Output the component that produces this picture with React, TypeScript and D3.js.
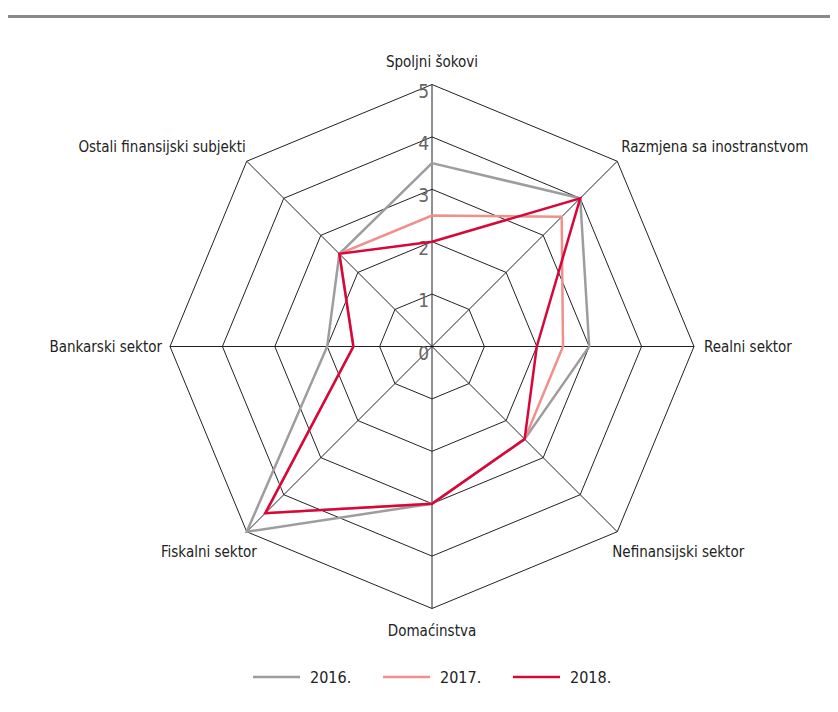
import React, { useEffect, useRef } from "react";
import * as d3 from "d3";

const axes = [
  "Spoljni šokovi",
  "Razmjena sa inostranstvom",
  "Realni sektor",
  "Nefinansijski sektor",
  "Domaćinstva",
  "Fiskalni sektor",
  "Bankarski sektor",
  "Ostali finansijski subjekti",
];

const years = ["2016.", "2017.", "2018."];
const values2016 = [3.5, 4, 3, 2.5, 3, 5, 2, 2.5];
const values2017 = [2.5, 3.5, 2.5, 2.5, 3, 4.5, 1.5, 2.5];
const values2018 = [2, 4, 2, 2.5, 3, 4.5, 1.5, 2.5];
const colors = ["#9d9d9f", "#f0908a", "#d6083b"];
const ticks = [0, 1, 2, 3, 4, 5];

const FONT = "'Liberation Sans Narrow', 'DejaVu Sans Condensed', sans-serif";

export default function App() {
  const svgRef = useRef<SVGSVGElement>(null);

  useEffect(() => {
    const width = 838;
    const height = 712;
    const cx = 432;
    const cy = 346.5;
    const R = 262;

    const svg = d3.select(svgRef.current);
    svg.selectAll("*").remove();
    svg.attr("viewBox", [0, 0, width, height]).style("font-family", FONT);

    // top rule
    svg
      .append("line")
      .attr("x1", 6)
      .attr("x2", width)
      .attr("y1", 16.5)
      .attr("y2", 16.5)
      .attr("stroke", "#8a8a8c")
      .attr("stroke-width", 3);

    const r = d3.scaleLinear().domain([0, 5]).range([0, R]);
    const angle = (i: number) => (i * 2 * Math.PI) / axes.length;
    const pt = (i: number, v: number): [number, number] => [
      cx + r(v) * Math.sin(angle(i)),
      cy - r(v) * Math.cos(angle(i)),
    ];

    const g = svg.append("g");

    // grid rings
    ticks.slice(1).forEach((t) => {
      g.append("path")
        .attr("d", d3.line()(axes.map((_, i) => pt(i, t))) + "Z")
        .attr("fill", "none")
        .attr("stroke", "#222")
        .attr("stroke-width", 1);
    });

    // spokes
    axes.forEach((_, i) => {
      const [x, y] = pt(i, 5);
      g.append("line")
        .attr("x1", cx)
        .attr("y1", cy)
        .attr("x2", x)
        .attr("y2", y)
        .attr("stroke", "#222")
        .attr("stroke-width", 1);
    });

    // tick labels
    ticks.forEach((t) => {
      g.append("text")
        .attr("x", cx - 3)
        .attr("y", cy - r(t) + 13)
        .attr("text-anchor", "end")
        .attr("fill", "#666")
        .style("font-size", "19px")
        .text(t);
    });

    // axis labels
    const labelPos: { dx: number; dy: number; anchor: string }[] = [
      { dx: 0, dy: -18, anchor: "middle" },
      { dx: 4, dy: -9, anchor: "start" },
      { dx: 10, dy: 5, anchor: "start" },
      { dx: -5, dy: 25, anchor: "start" },
      { dx: 0, dy: 27, anchor: "middle" },
      { dx: 10, dy: 25, anchor: "end" },
      { dx: -8, dy: 5, anchor: "end" },
      { dx: -1, dy: -9, anchor: "end" },
    ];
    axes.forEach((name, i) => {
      const [x, y] = pt(i, 5);
      g.append("text")
        .attr("x", x + labelPos[i].dx)
        .attr("y", y + labelPos[i].dy)
        .attr("text-anchor", labelPos[i].anchor)
        .attr("fill", "#222")
        .style("font-size", "15px")
        .text(name);
    });

    // series
    const series = [values2016, values2017, values2018];
    series.forEach((vals, s) => {
      g.append("path")
        .attr("d", d3.line()(vals.map((v, i) => pt(i, v))) + "Z")
        .attr("fill", "none")
        .attr("stroke", colors[s])
        .attr("stroke-width", 2.5)
        .attr("stroke-linejoin", "miter");
    });

    // legend
    const lx = d3.scalePoint().domain(years).range([253, 513]);
    years.forEach((yr) => {
      const x0 = lx(yr)!;
      const i = years.indexOf(yr);
      svg
        .append("line")
        .attr("x1", x0)
        .attr("x2", x0 + 47)
        .attr("y1", 677)
        .attr("y2", 677)
        .attr("stroke", colors[i])
        .attr("stroke-width", 2.5);
      svg
        .append("text")
        .attr("x", x0 + 57)
        .attr("y", 683)
        .attr("fill", "#222")
        .style("font-size", "16px")
        .text(yr);
    });
  }, []);

  return (
    <div style={{ margin: "-8px" }}>
      <svg ref={svgRef} width={838} height={712} style={{ display: "block" }} />
    </div>
  );
}
